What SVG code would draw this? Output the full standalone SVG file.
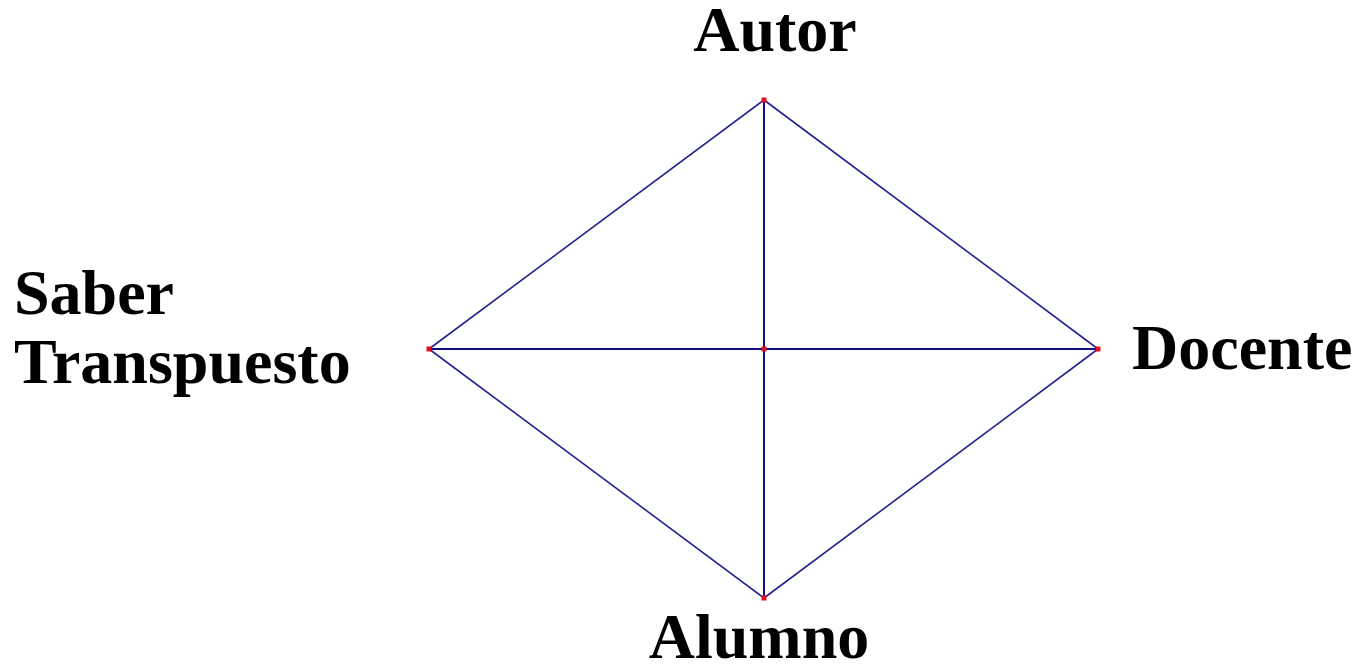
<svg xmlns="http://www.w3.org/2000/svg" width="1357" height="665" viewBox="0 0 1357 665">
<style>
.lbl{font-family:"Liberation Serif","Times New Roman",serif;font-weight:bold;font-size:64px;fill:#000}
.edge{stroke:#23238f;stroke-width:1.6;fill:none}
.axis{stroke:#101080;stroke-width:2}
.pt{fill:#e01020}
</style>
<rect width="1357" height="665" fill="#fff"/>
<g id="connectors">
<line class="edge" x1="764" y1="100" x2="429" y2="349"/>
<line class="edge" x1="764" y1="100" x2="1098" y2="349"/>
<line class="edge" x1="429" y1="349" x2="764" y2="598"/>
<line class="edge" x1="1098" y1="349" x2="764" y2="598"/>
<line class="edge axis" x1="764" y1="100" x2="764" y2="598"/>
<line class="edge axis" x1="429" y1="349" x2="1098" y2="349"/>
</g>
<g id="autor"><rect class="pt" x="761.5" y="97.5" width="5" height="5"/><text class="lbl" x="775" y="51" text-anchor="middle">Autor</text></g>
<g id="saber"><rect class="pt" x="426.5" y="346.5" width="5" height="5"/><text class="lbl" x="14" y="314">Saber</text><text class="lbl" x="14" y="383">Transpuesto</text></g>
<g id="docente"><rect class="pt" x="1095.5" y="346.5" width="5" height="5"/><text class="lbl" x="1132" y="369">Docente</text></g>
<g id="alumno"><rect class="pt" x="761.5" y="595.5" width="5" height="5"/><text class="lbl" x="759" y="658" text-anchor="middle">Alumno</text></g>
<g id="centro"><rect class="pt" x="761.5" y="346.5" width="5" height="5"/></g>
</svg>
